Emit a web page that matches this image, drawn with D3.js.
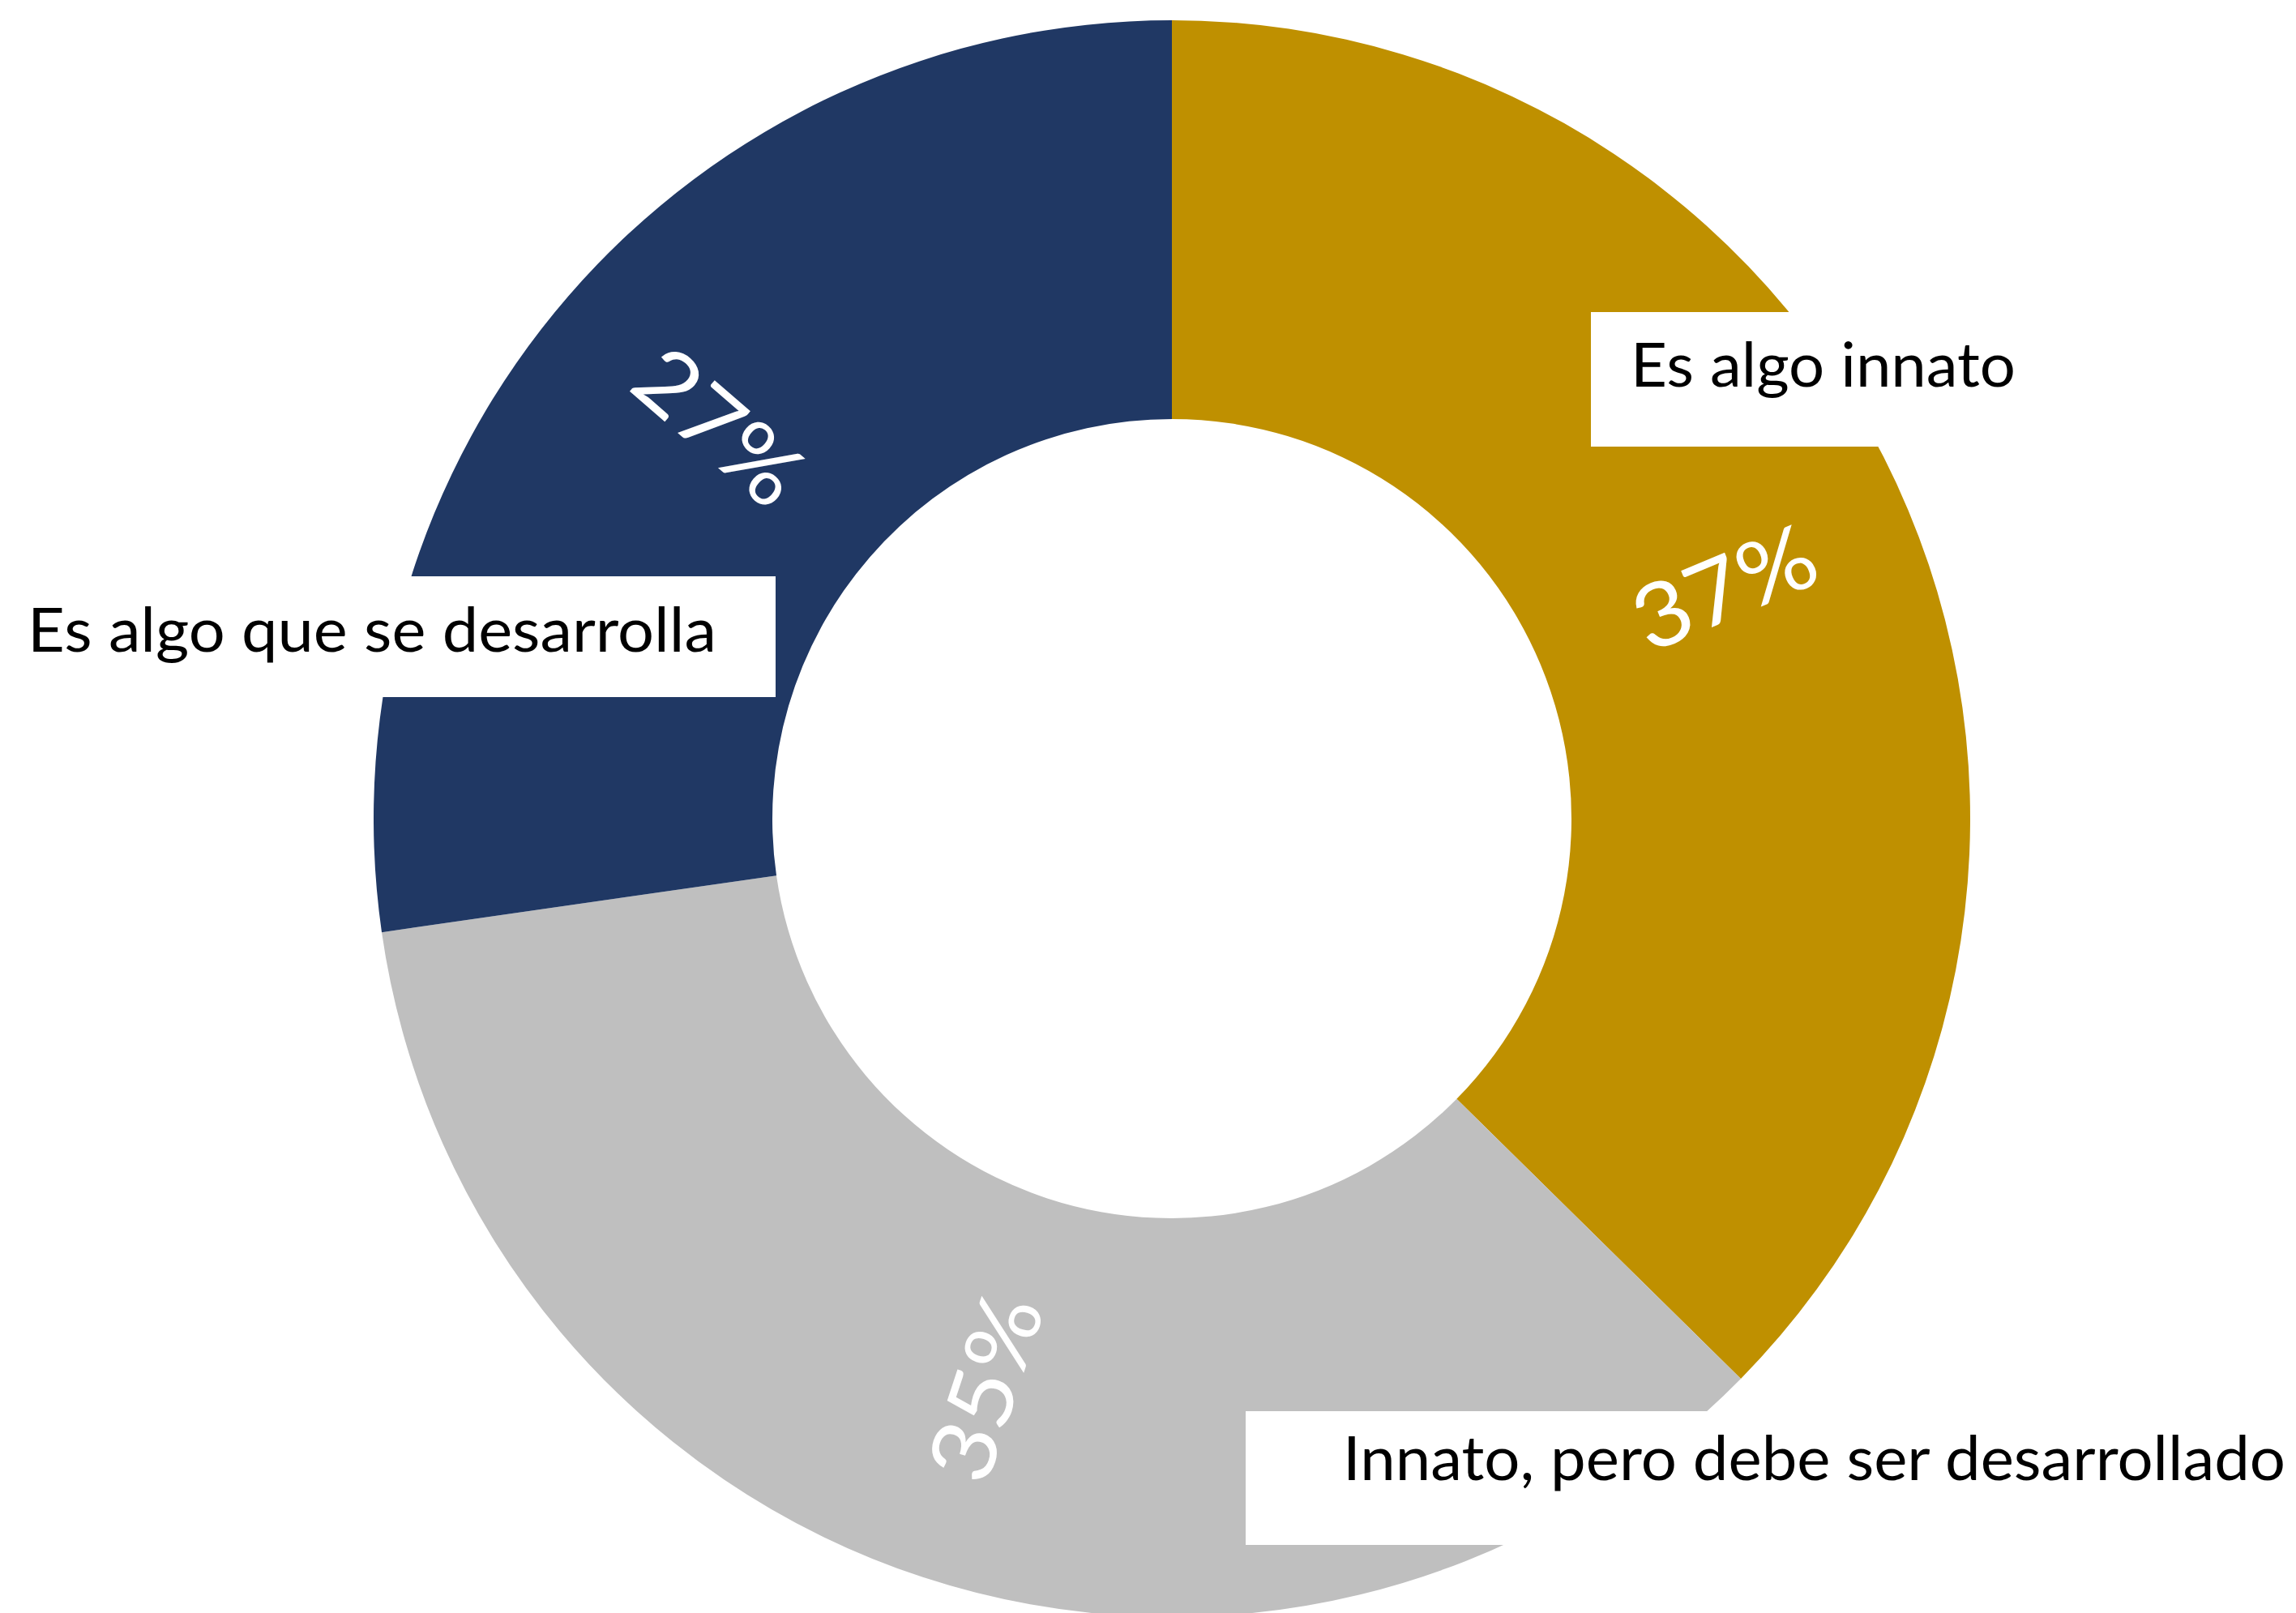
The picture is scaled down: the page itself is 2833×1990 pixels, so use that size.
<meta charset="UTF-8">
<head>
  <script src="https://d3js.org/d3.v7.min.js"></script>
  <style>
    body { margin: 0; background: #fff; }
  </style>
</head>
<body>
  <svg id="svg" width="2833" height="1990"></svg>
  <script>
    // data (they add up to 99, the pie normalises)
    const categories = ["Es algo innato", "Innato, pero debe ser desarrollado", "Es algo que se desarrolla"];
    const values = [37, 35, 27];
    const valueLabels = ["37%", "35%", "27%"];
    const colors = ["#BF9000", "#BFBFBF", "#203864"];

    // layout
    const W = 2833, H = 1990;
    const cx = 1446, cy = 1010;
    const rOuter = 985, rInner = 493;
    const font = "Lato, 'Open Sans', sans-serif";

    // category label boxes (pixel layout, same order as categories)
    const boxes = [
      { x: 1963, y: 385, w: 575, h: 166, tx: 2012, ty: 477, len: 475 },
      { x: 1537, y: 1741, w: 1320, h: 165, tx: 1657, ty: 1826, len: 1163 },
      { x: -20, y: 711, w: 977, h: 149, tx: 34, ty: 804, len: 850 }
    ];

    const svg = d3.select("#svg");

    const pie = d3.pie().sort(null).value(d => d)(values);
    const arc = d3.arc().innerRadius(rInner).outerRadius(rOuter);

    const g = svg.append("g").attr("transform", `translate(${cx},${cy})`);

    g.selectAll("path")
      .data(pie)
      .enter()
      .append("path")
      .attr("d", arc)
      .attr("fill", (d, i) => colors[i]);

    // percentages, turned along the radius like the original
    g.selectAll("text.pct")
      .data(pie)
      .enter()
      .append("text")
      .attr("class", "pct")
      .attr("transform", d => {
        const c = arc.centroid(d);
        const deg = (d.startAngle + d.endAngle) / 2 * 180 / Math.PI;
        const rot = deg < 180 ? deg - 90 : deg - 270;
        return `translate(${c[0]},${c[1]}) rotate(${rot})`;
      })
      .attr("text-anchor", "middle")
      .attr("dy", "0.36em")
      .attr("font-family", font)
      .attr("font-size", 110)
      .attr("textLength", 235)
      .attr("lengthAdjust", "spacingAndGlyphs")
      .attr("fill", "#ffffff")
      .text((d, i) => valueLabels[i]);

    // category labels in white boxes
    const lab = svg.selectAll("g.lab")
      .data(categories)
      .enter()
      .append("g")
      .attr("class", "lab");

    lab.append("rect")
      .attr("x", (d, i) => boxes[i].x)
      .attr("y", (d, i) => boxes[i].y)
      .attr("width", (d, i) => boxes[i].w)
      .attr("height", (d, i) => boxes[i].h)
      .attr("fill", "#ffffff");

    lab.append("text")
      .attr("x", (d, i) => boxes[i].tx)
      .attr("y", (d, i) => boxes[i].ty)
      .attr("font-family", font)
      .attr("font-size", 76)
      .attr("textLength", (d, i) => boxes[i].len)
      .attr("lengthAdjust", "spacingAndGlyphs")
      .attr("fill", "#000000")
      .text(d => d);
  </script>
</body>
